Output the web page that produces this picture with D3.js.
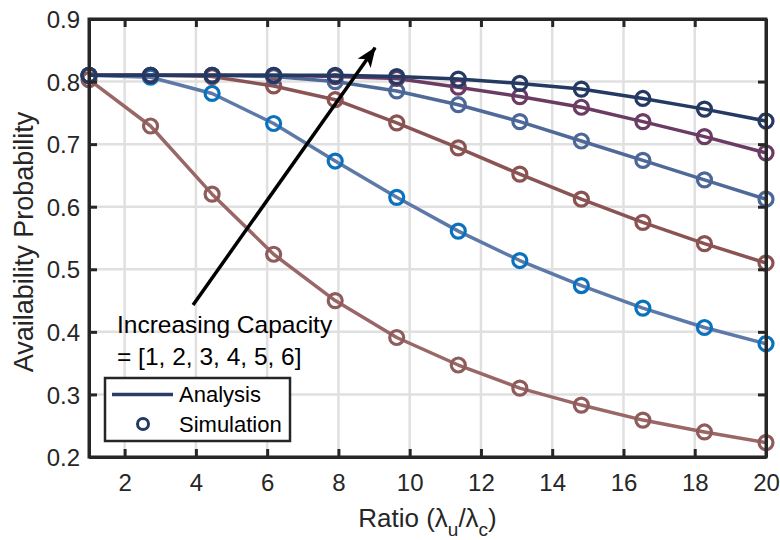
<!DOCTYPE html>
<html>
<head>
<meta charset="utf-8">
<script src="https://cdn.jsdelivr.net/npm/d3@7"></script>
<style>
  html, body { margin: 0; padding: 0; background: #ffffff; }
  svg { display: block; font-family: "Liberation Sans", Arial, Helvetica, sans-serif; }
</style>
</head>
<body>
<svg id="chart" width="780" height="540"></svg>
<script>
// ---------- data ----------
const ratio = [1, 2.727, 4.455, 6.182, 7.909, 9.636, 11.364, 13.091, 14.818, 16.545, 18.273, 20];
const capacityLabels = ["1", "2", "3", "4", "5", "6"];
const cap1 = [0.803, 0.729, 0.620, 0.524, 0.450, 0.391, 0.347, 0.310, 0.283, 0.259, 0.240, 0.223];
const cap2 = [0.810, 0.807, 0.781, 0.733, 0.673, 0.615, 0.561, 0.514, 0.474, 0.438, 0.407, 0.381];
const cap3 = [0.810, 0.810, 0.808, 0.793, 0.771, 0.734, 0.694, 0.652, 0.612, 0.575, 0.541, 0.510];
const cap4 = [0.810, 0.810, 0.810, 0.808, 0.800, 0.785, 0.763, 0.736, 0.705, 0.674, 0.643, 0.612];
const cap5 = [0.810, 0.810, 0.810, 0.810, 0.808, 0.805, 0.791, 0.776, 0.759, 0.736, 0.712, 0.686];
const cap6 = [0.810, 0.810, 0.810, 0.810, 0.810, 0.808, 0.804, 0.797, 0.788, 0.773, 0.756, 0.737];
const xTicks = [2, 4, 6, 8, 10, 12, 14, 16, 18, 20];
const yTicks = [0.2, 0.3, 0.4, 0.5, 0.6, 0.7, 0.8, 0.9];
const lineColors = ["#9a6767", "#5d79a8", "#8b5454", "#4f6998", "#6b3c63", "#243a63"];
const markerColors = ["#8f5c5c", "#0a72bd", "#8b5252", "#4c6797", "#6b3c63", "#243a63"];
const seriesValues = [cap1, cap2, cap3, cap4, cap5, cap6];

// ---------- layout ----------
const svg = d3.select("#chart");
const x = d3.scaleLinear().domain([1, 20]).range([89, 766]);
const y = d3.scaleLinear().domain([0.2, 0.9]).range([457, 19]);
const ink = "#262626";

// grid
const grid = svg.append("g");
grid.selectAll("line.gx").data(xTicks).join("line")
  .attr("x1", d => x(d)).attr("x2", d => x(d))
  .attr("y1", y(0.9)).attr("y2", y(0.2))
  .attr("stroke", "#e0e0e0").attr("stroke-width", 2.5);
grid.selectAll("line.gy").data(yTicks).join("line")
  .attr("y1", d => y(d)).attr("y2", d => y(d))
  .attr("x1", x(1)).attr("x2", x(20))
  .attr("stroke", "#e0e0e0").attr("stroke-width", 2.5);

// series
const line = d3.line().x((d, i) => x(ratio[i])).y(d => y(d));
seriesValues.forEach((vals, k) => {
  const g = svg.append("g").attr("class", "series cap" + capacityLabels[k]);
  g.append("path").datum(vals)
    .attr("d", line)
    .attr("fill", "none")
    .attr("stroke", lineColors[k])
    .attr("stroke-width", 3.5)
    .attr("stroke-linejoin", "round");
  g.selectAll("circle").data(vals).join("circle")
    .attr("cx", (d, i) => x(ratio[i]))
    .attr("cy", d => y(d))
    .attr("r", 7)
    .attr("fill", "none")
    .attr("stroke", markerColors[k])
    .attr("stroke-width", 3.2);
});

// axes (box with inward ticks)
const axisG = svg.append("g");
const tickLen = 8;
const axB = axisG.append("g").attr("transform", `translate(0,${y(0.2)})`)
  .call(d3.axisBottom(x).tickValues(xTicks).tickSizeInner(-tickLen).tickSizeOuter(0).tickPadding(16));
const axT = axisG.append("g").attr("transform", `translate(0,${y(0.9)})`)
  .call(d3.axisTop(x).tickValues(xTicks).tickSizeInner(-tickLen).tickSizeOuter(0).tickFormat(""));
const axL = axisG.append("g").attr("transform", `translate(${x(1)},0)`)
  .call(d3.axisLeft(y).tickValues(yTicks).tickSizeInner(-tickLen).tickSizeOuter(0).tickPadding(9).tickFormat(d3.format(".1f")));
const axR = axisG.append("g").attr("transform", `translate(${x(20)},0)`)
  .call(d3.axisRight(y).tickValues(yTicks).tickSizeInner(-tickLen).tickSizeOuter(0).tickFormat(""));
[axB, axT, axL, axR].forEach(a => {
  a.select(".domain").attr("stroke", ink).attr("stroke-width", 3);
  a.selectAll(".tick line").attr("stroke", ink).attr("stroke-width", 3);
  a.selectAll(".tick text").attr("fill", ink).attr("font-size", 24)
    .attr("font-family", "'Liberation Sans', Arial, sans-serif");
});
axB.selectAll(".tick text").attr("dy", "0.71em").attr("y", 17);
axL.selectAll(".tick text").attr("x", -9).attr("dy", "0.36em");
// hide the top/right duplicate ticks that sit at the corners are fine
// square the corners of the box
axisG.append("rect")
  .attr("x", x(1)).attr("y", y(0.9))
  .attr("width", x(20) - x(1)).attr("height", y(0.2) - y(0.9))
  .attr("fill", "none").attr("stroke", ink).attr("stroke-width", 3);

// axis labels
svg.append("text")
  .attr("x", (x(1) + x(20)) / 2).attr("y", 527)
  .attr("text-anchor", "middle").attr("font-size", 26).attr("fill", ink)
  .call(t => {
    t.append("tspan").text("Ratio (λ");
    t.append("tspan").attr("font-size", 19).attr("dy", 9).text("u");
    t.append("tspan").attr("dy", -9).text("/λ");
    t.append("tspan").attr("font-size", 19).attr("dy", 9).text("c");
    t.append("tspan").attr("dy", -9).text(")");
  });
svg.append("text")
  .attr("transform", "translate(33,242) rotate(-90)")
  .attr("text-anchor", "middle").attr("font-size", 27).attr("fill", ink)
  .text("Availability Probability");

// annotation arrow
const defs = svg.append("defs");
defs.append("marker")
  .attr("id", "ahead").attr("markerUnits", "userSpaceOnUse")
  .attr("viewBox", "0 0 20 16").attr("refX", 19).attr("refY", 8)
  .attr("markerWidth", 20).attr("markerHeight", 16).attr("orient", "auto")
  .append("path").attr("d", "M0,0 L20,8 L0,16 L5,8 Z").attr("fill", "#000");
const arrowFrom = [3.92, 0.443], arrowTo = [9.03, 0.854];
svg.append("line")
  .attr("x1", x(arrowFrom[0])).attr("y1", y(arrowFrom[1]))
  .attr("x2", x(arrowTo[0])).attr("y2", y(arrowTo[1]))
  .attr("stroke", "#000").attr("stroke-width", 3.5)
  .attr("marker-end", "url(#ahead)");
svg.append("text").attr("x", 117).attr("y", 333)
  .attr("font-size", 24.5).attr("fill", "#000").text("Increasing Capacity");
svg.append("text").attr("x", 117).attr("y", 365)
  .attr("font-size", 24.5).attr("fill", "#000")
  .text("= [" + capacityLabels.join(", ") + "]");

// legend
const lg = svg.append("g");
lg.append("rect").attr("x", 105).attr("y", 378).attr("width", 185).attr("height", 63)
  .attr("fill", "#fff").attr("stroke", ink).attr("stroke-width", 2.5);
lg.append("line").attr("x1", 112).attr("x2", 173).attr("y1", 394.5).attr("y2", 394.5)
  .attr("stroke", "#2a3d66").attr("stroke-width", 3.5);
lg.append("circle").attr("cx", 143).attr("cy", 424).attr("r", 5.5)
  .attr("fill", "none").attr("stroke", "#243a63").attr("stroke-width", 3);
lg.append("text").attr("x", 179).attr("y", 402).attr("font-size", 22).attr("fill", "#000").text("Analysis");
lg.append("text").attr("x", 179).attr("y", 432).attr("font-size", 22).attr("fill", "#000").text("Simulation");
</script>
</body>
</html>
